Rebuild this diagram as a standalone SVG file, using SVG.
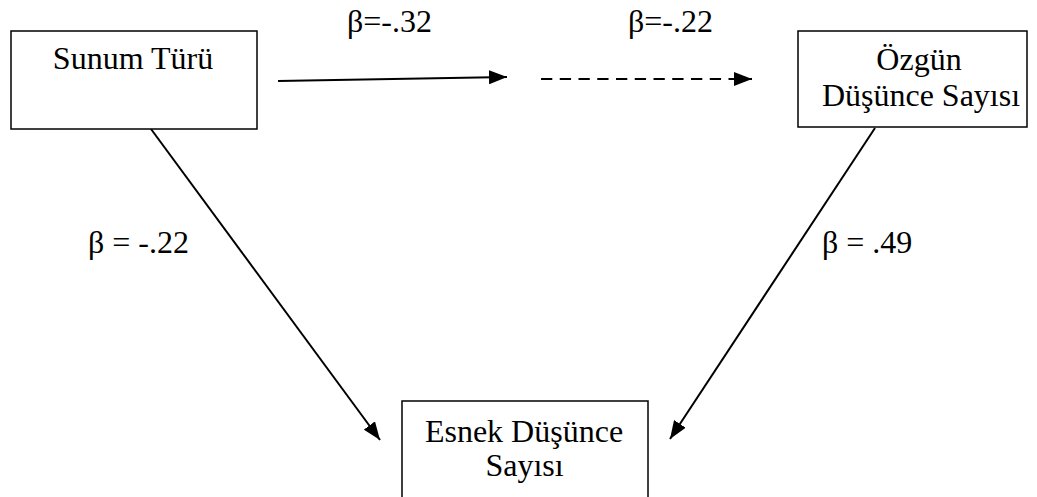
<svg xmlns="http://www.w3.org/2000/svg" width="1037" height="497" viewBox="0 0 1037 497">
<style>
.box{fill:#fff;stroke:#000;stroke-width:1.5}
.c{fill:none;stroke:#000;stroke-width:2}
</style>
<defs>
<marker id="ah" markerUnits="userSpaceOnUse" markerWidth="20" markerHeight="14" viewBox="0 0 20 14" refX="18" refY="7" orient="auto">
<path d="M0,0 L18,7 L0,14 Z" fill="#000"/>
</marker>
</defs>
<g id="connectors">
<line class="c" x1="278" y1="81" x2="507" y2="77" marker-end="url(#ah)"/>
<line class="c" x1="541" y1="79" x2="752" y2="79" stroke-width="2.7" stroke-dasharray="11.3,7.45" marker-end="url(#ah)"/>
<line class="c" x1="151" y1="129" x2="380" y2="440" marker-end="url(#ah)"/>
<line class="c" x1="875" y1="128" x2="670" y2="439" marker-end="url(#ah)"/>
</g>
<g font-family="'Liberation Serif', 'Times New Roman', Tinos, serif" font-size="32" fill="#000">
<g id="labels">
<text x="347" y="32">β=-.32</text>
<text x="628" y="32">β=-.22</text>
<text x="88" y="253">β = -.22</text>
<text x="822" y="253">β = .49</text>
</g>
<g id="node-sunum">
<rect class="box" x="11" y="31" width="246" height="98"/>
<text x="133" y="69" text-anchor="middle">Sunum Türü</text>
</g>
<g id="node-ozgun">
<rect class="box" x="798" y="31" width="229" height="96"/>
<text x="919" y="70" text-anchor="middle">Özgün</text>
<text x="921" y="106" text-anchor="middle">Düşünce Sayısı</text>
</g>
<g id="node-esnek">
<rect class="box" x="402" y="401" width="246" height="110"/>
<text x="524" y="442" text-anchor="middle">Esnek Düşünce</text>
<text x="524.5" y="476" text-anchor="middle">Sayısı</text>
</g>
</g>
</svg>
